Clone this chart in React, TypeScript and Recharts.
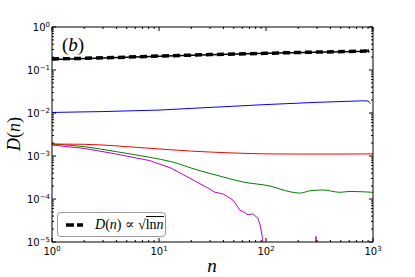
import { LineChart, Line, XAxis, YAxis, Legend } from "recharts";

// log-log decay of D(n) for several cases
const xDecades = [1, 10, 100, 1000];
const yDecades = [1e-5, 1e-4, 1e-3, 1e-2, 1e-1, 1];

const fitLine = [
  { n: 1, d: 0.18 },
  { n: 2, d: 0.187 },
  { n: 5, d: 0.199 },
  { n: 10, d: 0.211 },
  { n: 30, d: 0.228 },
  { n: 100, d: 0.245 },
  { n: 300, d: 0.261 },
  { n: 900, d: 0.276 },
];

const blackData = [
  { n: 1, d: 0.176 },
  { n: 3, d: 0.19 },
  { n: 10, d: 0.209 },
  { n: 30, d: 0.227 },
  { n: 100, d: 0.245 },
  { n: 300, d: 0.26 },
  { n: 880, d: 0.272 },
  { n: 900, d: 0.29 },
  { n: 920, d: 0.255 },
];

const blueData = [
  { n: 1, d: 0.0103 },
  { n: 3, d: 0.0108 },
  { n: 10, d: 0.0117 },
  { n: 30, d: 0.0135 },
  { n: 100, d: 0.0157 },
  { n: 300, d: 0.0177 },
  { n: 800, d: 0.0192 },
  { n: 900, d: 0.019 },
  { n: 950, d: 0.0165 },
];

const redData = [
  { n: 1, d: 0.0019 },
  { n: 2, d: 0.00187 },
  { n: 3, d: 0.0018 },
  { n: 5, d: 0.00165 },
  { n: 10, d: 0.00146 },
  { n: 20, d: 0.0013 },
  { n: 48, d: 0.00118 },
  { n: 100, d: 0.00112 },
  { n: 200, d: 0.00111 },
  { n: 500, d: 0.00111 },
  { n: 1000, d: 0.00112 },
];

const greenData = [
  { n: 1, d: 0.0019 },
  { n: 2, d: 0.00165 },
  { n: 4, d: 0.00126 },
  { n: 8.2, d: 0.00093 },
  { n: 13, d: 0.00074 },
  { n: 23, d: 0.00047 },
  { n: 39, d: 0.00033 },
  { n: 60, d: 0.00025 },
  { n: 109, d: 0.0002 },
  { n: 168, d: 0.000147 },
  { n: 208, d: 0.000137 },
  { n: 257, d: 0.000155 },
  { n: 341, d: 0.000162 },
  { n: 491, d: 0.000143 },
  { n: 609, d: 0.00015 },
  { n: 1000, d: 0.000143 },
];

const magentaData = [
  { n: 1, d: 0.0018 },
  { n: 2, d: 0.0015 },
  { n: 4, d: 0.00111 },
  { n: 8.2, d: 0.00078 },
  { n: 13, d: 0.00052 },
  { n: 18.7, d: 0.00032 },
  { n: 28.7, d: 0.00018 },
  { n: 33, d: 0.000145 },
  { n: 40, d: 0.00013 },
  { n: 49, d: 0.000095 },
  { n: 53, d: 0.000072 },
  { n: 57, d: 0.000055 },
  { n: 62, d: 0.00005 },
  { n: 68, d: 0.000043 },
  { n: 75, d: 0.000045 },
  { n: 84, d: 0.000036 },
  { n: 88, d: 0.000025 },
  { n: 93, d: 0.000012 },
  { n: 95, d: 0.000001 },
  { n: 150, d: null },
  { n: 290, d: 0.000001 },
  { n: 293, d: 0.0000135 },
  { n: 296, d: 0.000001 },
];

const withMinors = (decades: number[]) => {
  const out: number[] = [];
  decades.forEach((dec, i) => {
    out.push(dec);
    if (i < decades.length - 1) for (let m = 2; m <= 9; m++) out.push(+(dec * m).toPrecision(3));
  });
  return out;
};
const xTicks = withMinors(xDecades);
const yTicks = withMinors(yDecades);

const isMajor = (v: number) => Math.abs(Math.log10(v) - Math.round(Math.log10(v))) < 1e-6;
const expLabel = (v: number) => {
  const e = Math.round(Math.log10(v));
  return e < 0 ? `\u2212${-e}` : `${e}`;
};

const tickFont = '"DejaVu Sans", sans-serif';

function Pow({ x, y, v, anchor }: any) {
  return (
    <text x={x} y={y} textAnchor={anchor} fontFamily={tickFont} fontSize={10} fill="#000">
      10
      <tspan dy={-4} fontSize={7}>
        {expLabel(v)}
      </tspan>
    </text>
  );
}

const makeTick = (side: string) => (props: any) => {
  const { x, y, payload } = props;
  const v = payload.value;
  const major = isMajor(v);
  const len = major ? 4 : 2;
  if (side === "bottom")
    return (
      <g>
        <line x1={x} y1={y} x2={x} y2={y - len} stroke="#000" />
        {major && <Pow x={x} y={y + 13} v={v} anchor="middle" />}
      </g>
    );
  if (side === "top") return <line x1={x} y1={y} x2={x} y2={y + len} stroke="#000" />;
  if (side === "left")
    return (
      <g>
        <line x1={x} y1={y} x2={x + len} y2={y} stroke="#000" />
        {major && <Pow x={x - 2} y={y + 4} v={v} anchor="end" />}
      </g>
    );
  return <line x1={x} y1={y} x2={x - len} y2={y} stroke="#000" />;
};

const serif = '"Liberation Serif", "DejaVu Serif", serif';

function FitLegend() {
  return (
    <div
      style={{
        boxSizing: "border-box",
        width: 109,
        height: 25,
        border: "1px solid #999",
        borderRadius: 4,
        background: "#fff",
        display: "flex",
        alignItems: "center",
        fontFamily: serif,
        fontSize: 14,
        color: "#000",
      }}
    >
      <svg width={20} height={10} style={{ marginLeft: 7 }}>
        <line x1={1} y1={5} x2={18} y2={5} stroke="#000" strokeWidth={3.5} strokeDasharray="8 3" />
      </svg>
      <span style={{ marginLeft: 10, whiteSpace: "nowrap" }}>
        <i>D</i>(<i>n</i>) ∝ √
        <span style={{ borderTop: "1px solid #000" }}>
          ln<i>n</i>
        </span>
      </span>
    </div>
  );
}

export default function App() {
  return (
    <div style={{ position: "absolute", left: 0, top: 0, width: 415, height: 277, background: "#fff" }}>
      <LineChart width={415} height={277} margin={{ top: 17, right: 32, bottom: 5, left: 12 }}>
        <XAxis
          xAxisId="b"
          dataKey="n"
          type="number"
          scale="log"
          domain={[1, 1000]}
          allowDataOverflow
          ticks={xTicks}
          interval={0}
          height={30}
          tickSize={0}
          tickMargin={0}
          tick={makeTick("bottom")}
          axisLine={{ stroke: "#000" }}
          tickLine={false}
        />
        <XAxis
          xAxisId="t"
          orientation="top"
          dataKey="n"
          type="number"
          scale="log"
          domain={[1, 1000]}
          allowDataOverflow
          ticks={xTicks}
          interval={0}
          height={10}
          tickSize={0}
          tickMargin={0}
          tick={makeTick("top")}
          axisLine={{ stroke: "#000" }}
          tickLine={false}
        />
        <YAxis
          yAxisId="l"
          type="number"
          scale="log"
          domain={[1e-5, 1]}
          allowDataOverflow
          ticks={yTicks}
          interval={0}
          width={40}
          tickSize={0}
          tickMargin={0}
          tick={makeTick("left")}
          axisLine={{ stroke: "#000" }}
          tickLine={false}
        />
        <YAxis
          yAxisId="r"
          orientation="right"
          type="number"
          scale="log"
          domain={[1e-5, 1]}
          allowDataOverflow
          ticks={yTicks}
          interval={0}
          width={10}
          tickSize={0}
          tickMargin={0}
          tick={makeTick("right")}
          axisLine={{ stroke: "#000" }}
          tickLine={false}
        />
        <Legend layout="horizontal" verticalAlign="middle" align="center" content={() => <FitLegend />} wrapperStyle={{ left: 57, top: 212, width: 109 }} />
        <Line xAxisId="b" yAxisId="l" data={magentaData} dataKey="d" stroke="#bf00bf" strokeWidth={1} dot={false} isAnimationActive={false} />
        <Line xAxisId="b" yAxisId="l" data={greenData} dataKey="d" stroke="#008000" strokeWidth={1} dot={false} type="monotone" isAnimationActive={false} />
        <Line xAxisId="b" yAxisId="l" data={redData} dataKey="d" stroke="#ff0000" strokeWidth={1} dot={false} type="monotone" isAnimationActive={false} />
        <Line xAxisId="b" yAxisId="l" data={blueData} dataKey="d" stroke="#0000ff" strokeWidth={1} dot={false} isAnimationActive={false} />
        <Line xAxisId="b" yAxisId="l" data={blackData} dataKey="d" stroke="#000" strokeWidth={1.5} dot={false} isAnimationActive={false} />
        <Line xAxisId="b" yAxisId="l" data={fitLine} dataKey="d" stroke="#000" strokeWidth={3.5} strokeDasharray="7 4" dot={false} isAnimationActive={false} />
      </LineChart>
      <div style={{ position: "absolute", left: 62, top: 34, fontFamily: serif, fontSize: 19, fontStyle: "italic" }}>
        <span style={{ fontStyle: "normal" }}>(</span>b<span style={{ fontStyle: "normal" }}>)</span>
      </div>
      <div
        style={{
          position: "absolute",
          left: 14,
          top: 134,
          transform: "translate(-50%, -50%) rotate(-90deg)",
          fontFamily: serif,
          fontSize: 18,
          whiteSpace: "nowrap",
        }}
      >
        <i>D</i>(<i>n</i>)
      </div>
      <div
        style={{
          position: "absolute",
          left: 212,
          top: 265,
          transform: "translate(-50%, -50%)",
          fontFamily: serif,
          fontSize: 19,
          lineHeight: "19px",
          fontStyle: "italic",
        }}
      >
        n
      </div>
    </div>
  );
}
